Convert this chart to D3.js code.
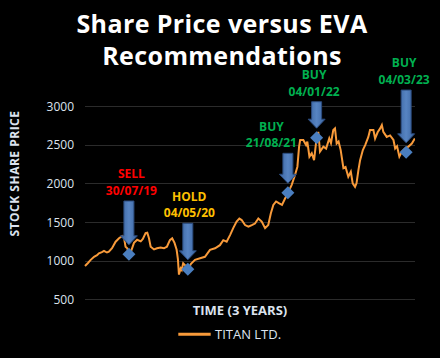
<!DOCTYPE html>
<html>
<head>
<meta charset="utf-8">
<script src="https://cdn.jsdelivr.net/npm/d3@7"></script>
<style>
html,body{margin:0;padding:0;background:#000;}
svg{display:block;}
</style>
</head>
<body>
<svg id="chart" width="440" height="358"></svg>
<script>
// ---------- DATA ----------
const dates = ["2019-01-03","2019-01-17","2019-01-30","2019-02-15","2019-03-01","2019-03-10","2019-03-24","2019-04-03","2019-04-17","2019-04-26",
"2019-05-11","2019-05-28","2019-06-13","2019-06-29","2019-07-06","2019-07-14","2019-07-22","2019-07-30","2019-08-09","2019-08-23",
"2019-09-07","2019-09-24","2019-10-04","2019-10-17","2019-10-25","2019-11-02","2019-11-10","2019-11-26","2019-12-10","2019-12-27",
"2020-01-12","2020-01-26","2020-02-09","2020-02-20","2020-03-02","2020-03-12","2020-03-18","2020-03-23","2020-03-31","2020-04-05",
"2020-04-12","2020-04-25","2020-05-06","2020-05-19","2020-06-07","2020-07-01","2020-07-24","2020-08-17","2020-09-10","2020-10-03",
"2020-10-19","2020-11-04","2020-11-20","2020-12-05","2020-12-21","2021-01-03","2021-01-14","2021-01-30","2021-02-15","2021-03-03",
"2021-03-18","2021-04-03","2021-04-19","2021-05-05","2021-05-20","2021-06-01","2021-06-13","2021-06-26","2021-07-11","2021-07-24",
"2021-08-07","2021-08-22","2021-09-08","2021-09-24","2021-10-05","2021-10-13","2021-10-18","2021-11-02","2021-11-15","2021-11-21",
"2021-12-01","2021-12-12","2021-12-23","2022-01-01","2022-01-06","2022-01-12","2022-01-20","2022-02-05","2022-02-18","2022-03-05",
"2022-03-13","2022-03-24","2022-04-01","2022-04-09","2022-04-18","2022-04-28","2022-05-11","2022-05-21","2022-06-03","2022-06-15",
"2022-06-24","2022-07-05","2022-07-12","2022-07-21","2022-07-29","2022-08-11","2022-08-22","2022-09-06","2022-09-14","2022-09-30",
"2022-10-08","2022-10-20","2022-11-01","2022-11-09","2022-11-16","2022-12-02","2022-12-18","2023-01-03","2023-01-11","2023-01-20",
"2023-01-31","2023-02-12","2023-02-27","2023-03-15","2023-03-31","2023-04-12","2023-04-15"];
const prices = [930,970,1010,1050,1070,1095,1110,1125,1105,1115,
1160,1245,1290,1320,1310,1180,1160,1090,1120,1230,
1270,1250,1280,1355,1360,1290,1180,1145,1160,1170,
1160,1180,1265,1290,1230,1140,1020,820,900,880,
965,930,890,960,1010,1030,1050,1140,1160,1200,
1265,1245,1330,1420,1505,1545,1525,1460,1440,1460,
1480,1545,1505,1420,1460,1610,1720,1765,1740,1720,
1800,1880,1980,2110,2215,2475,2560,2560,2495,2540,
2345,2390,2300,2515,2590,2665,2410,2475,2450,2580,
2520,2690,2710,2515,2540,2430,2195,2210,2085,2150,
2000,1955,2000,2170,2300,2430,2495,2600,2690,2690,
2580,2660,2710,2755,2665,2600,2620,2560,2450,2480,
2345,2410,2450,2475,2515,2570,2570];

const signalDates  = ["2019-07-30","2020-05-04","2021-08-21","2022-01-04","2023-03-04"];
const signalLabels = ["SELL","HOLD","BUY","BUY","BUY"];
const signalText   = ["30/07/19","04/05/20","21/08/21","04/01/22","04/03/23"];
const signalPrices = [1082,888,1878,2590,2401];
const arrowTops    = [1771,1483,2388,3055,3206];

const yTicks = [500,1000,1500,2000,2500,3000];
const seriesName = "TITAN LTD.";
const titleLines = ["Share Price versus EVA","Recommendations"];
const xTitle = "TIME (3 YEARS)";
const yTitle = "STOCK SHARE PRICE";

// ---------- STYLE ----------
const signalColor = {SELL:"#ff0000", HOLD:"#ffc000", BUY:"#00b050"};
const labelDx = [2.5,1.5,-16.5,-2.5,-2];
const lineColor = "#f89a3a";
const font = "'Open Sans', 'DejaVu Sans', sans-serif";

const parse = d3.timeParse("%Y-%m-%d");
const series = dates.map((d,i)=>({date:parse(d), v:prices[i]}));

const svg = d3.select("#chart");
const pLeft = 85, pRight = 415, pTop = 106, pBottom = 299.3;

const x = d3.scaleTime().domain(d3.extent(series, d=>d.date)).range([pLeft,pRight]);
const y = d3.scaleLinear().domain([500,3000]).range([pBottom, pTop]);

// gridlines
svg.append("g").selectAll("line").data(yTicks).join("line")
  .attr("x1", pLeft).attr("x2", pRight)
  .attr("y1", d=>Math.round(y(d))+0.5).attr("y2", d=>Math.round(y(d))+0.5)
  .attr("stroke", "#2b2b2b").attr("stroke-width", 1);

// y axis via d3.axisLeft (labels only)
const yAxis = d3.axisLeft(y).tickValues(yTicks).tickSize(0).tickPadding(11).tickFormat(d3.format("d"));
const ga = svg.append("g").attr("transform", `translate(${pLeft},0)`).call(yAxis);
ga.select(".domain").remove();
ga.selectAll("text").attr("fill", "#dce3ee").style("font-family", font).style("font-size","12px")
  .attr("dy","0.36em");

// title
svg.append("g").selectAll("text").data(titleLines).join("text")
  .attr("x", 222).attr("y", (d,i)=> i===0 ? 33.3 : 65)
  .attr("text-anchor","middle")
  .attr("fill","#ffffff").style("font-family", font).style("font-weight","700")
  .style("font-size","25px").style("letter-spacing","0.4px")
  .text(d=>d);

// axis titles
svg.append("text").attr("x", 240).attr("y", 314.5).attr("text-anchor","middle")
  .attr("fill","#dce3ee").style("font-family", font).style("font-weight","700").style("font-size","13px")
  .text(xTitle);
svg.append("text").attr("transform","translate(18.5,173.5) rotate(-90)").attr("text-anchor","middle")
  .attr("fill","#dce3ee").style("font-family", font).style("font-weight","700").style("font-size","12px")
  .style("letter-spacing","0.5px")
  .text(yTitle);

// price line
const line = d3.line().x(d=>x(d.date)).y(d=>y(d.v));
svg.append("path").datum(series).attr("d", line)
  .attr("fill","none").attr("stroke", lineColor).attr("stroke-width", 2).attr("stroke-linejoin","miter");

// signals
const signals = signalDates.map((d,i)=>({date:parse(d), label:signalLabels[i], text:signalText[i], v:signalPrices[i], topV:arrowTops[i], dx:labelDx[i]}));

const defs = svg.append("defs");
const grad = defs.append("linearGradient").attr("id","shaft").attr("x1","0").attr("x2","1").attr("y1","0").attr("y2","0");
grad.append("stop").attr("offset","0%").attr("stop-color","#3a64a0");
grad.append("stop").attr("offset","50%").attr("stop-color","#5784c2");
grad.append("stop").attr("offset","100%").attr("stop-color","#3a64a0");

const g = svg.append("g");
signals.forEach(s=>{
  const cx = x(s.date), cy = y(s.v);
  const yTop = y(s.topV), yTip = cy - 9.5;
  const sw = 5, hw = 8.5, hl = 9;
  const p = `M${cx-sw},${yTop} L${cx+sw},${yTop} L${cx+sw},${yTip-hl} L${cx+hw},${yTip-hl} L${cx},${yTip} L${cx-hw},${yTip-hl} L${cx-sw},${yTip-hl} Z`;
  g.append("path").attr("d", p).attr("fill","url(#shaft)").attr("stroke","#2c4c7e").attr("stroke-width",1);
  const r = 6.5;
  g.append("path").attr("d", `M${cx},${cy-r} L${cx+r},${cy} L${cx},${cy+r} L${cx-r},${cy} Z`)
    .attr("fill","#4a7ebf");
  g.append("text").attr("x", cx+s.dx).attr("y", yTop-27+4.3).attr("text-anchor","middle")
    .attr("fill", signalColor[s.label]).style("font-family", font).style("font-weight","700").style("font-size","12px")
    .text(s.label);
  g.append("text").attr("x", cx+s.dx).attr("y", yTop-10.5+4.3).attr("text-anchor","middle")
    .attr("fill", signalColor[s.label]).style("font-family", font).style("font-weight","700").style("font-size","12px")
    .text(s.text);
});

// legend
svg.append("line").attr("x1",178.3).attr("x2",210.7).attr("y1",334.3).attr("y2",334.3)
  .attr("stroke", lineColor).attr("stroke-width",3);
svg.append("text").attr("x",215).attr("y",339).attr("fill","#dce3ee")
  .style("font-family", font).style("font-size","13px").text(seriesName);
</script>
</body>
</html>
